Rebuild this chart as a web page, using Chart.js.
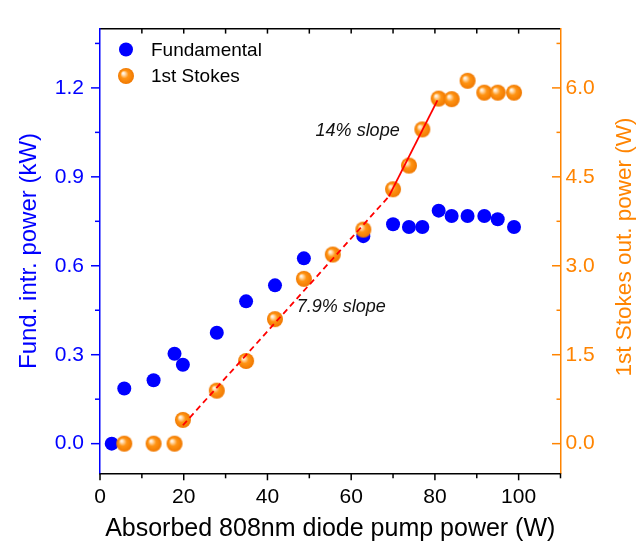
<!DOCTYPE html>
<html><head><meta charset="utf-8">
<script src="https://cdn.jsdelivr.net/npm/chart.js@4.4.0/dist/chart.umd.min.js"></script>
<style>html,body{margin:0;padding:0;background:#fff;}canvas{display:block;}</style>
</head><body>
<canvas id="c" width="641" height="542"></canvas>
<script>
// ---- data ----
const fundPump   = [2.8, 5.8, 12.8, 17.8, 19.8, 27.9, 34.9, 41.8, 48.7, 62.9, 70.0, 73.8, 77.0, 80.9, 84.0, 87.8, 91.8, 95.0, 98.9];
const fundPower  = [0.0, 0.186, 0.214, 0.303, 0.266, 0.374, 0.480, 0.534, 0.625, 0.700, 0.740, 0.731, 0.731, 0.786, 0.768, 0.768, 0.768, 0.757, 0.731];
const stokesPump = [5.8, 12.8, 17.8, 19.8, 27.9, 34.9, 41.8, 48.7, 55.6, 62.9, 70.0, 73.8, 77.0, 80.9, 84.0, 87.8, 91.8, 95.0, 98.9];
const stokesPower= [0.0, 0.0, 0.0, 0.40, 0.894, 1.395, 2.10, 2.78, 3.19, 3.61, 4.29, 4.69, 5.30, 5.82, 5.81, 6.12, 5.92, 5.92, 5.92];
const fitLowPump  = [19.8, 69.0];
const fitLowPower = [0.31, 4.17];
const fitHighPump = [69.0, 80.6];
const fitHighPower= [4.17, 5.79];
const xTicks     = [0, 20, 40, 60, 80, 100];
const leftTicks  = [0.0, 0.3, 0.6, 0.9, 1.2];
const rightTicks = [0.0, 1.5, 3.0, 4.5, 6.0];
const seriesNames = ['Fundamental', '1st Stokes'];
const slopeLabels = ['14% slope', '7.9% slope'];
const axisTitles = ['Absorbed 808nm diode pump power (W)', 'Fund. intr. power (kW)', '1st Stokes out. power (W)'];

// ---- style ----
const FONT = "'Liberation Sans', Arial, sans-serif";
const BLUE = '#0000FF';
const ORANGE = '#FF8400';
Chart.defaults.font.family = FONT;

function sphere(r) {
  const c = document.createElement('canvas');
  const s = Math.ceil(2 * r + 2);
  c.width = s; c.height = s;
  const g = c.getContext('2d');
  const cx = s / 2, cy = s / 2;
  const grad = g.createRadialGradient(cx - 0.38 * r, cy - 0.38 * r, 0, cx, cy, r);
  grad.addColorStop(0, '#FFFFFF');
  grad.addColorStop(0.18, '#FFE2BC');
  grad.addColorStop(0.5, '#FF9414');
  grad.addColorStop(1, '#F07800');
  g.fillStyle = grad;
  g.beginPath(); g.arc(cx, cy, r, 0, Math.PI * 2); g.fill();
  return c;
}
const orangeBall = sphere(8);

const pts = (xs, ys) => xs.map((v, i) => ({x: v, y: ys[i]}));
const setTicks = arr => s => { s.ticks = arr.map(v => ({value: v})); };

const decor = {
  id: 'decor',
  afterDraw(chart) {
    const ctx = chart.ctx;
    const {x, xTop, y, y2} = chart.scales;
    const ca = chart.chartArea;
    ctx.save();
    ctx.lineWidth = 1.5;
    function line(x0, y0, x1, y1, col) {
      ctx.strokeStyle = col; ctx.beginPath(); ctx.moveTo(x0, y0); ctx.lineTo(x1, y1); ctx.stroke();
    }
    // bottom ticks (outward)
    xTicks.forEach(v => { const px = x.getPixelForValue(v); line(px, ca.bottom, px, ca.bottom + 7, '#000'); });
    [10, 30, 50, 70, 90, 110].forEach(v => { const px = x.getPixelForValue(v); line(px, ca.bottom, px, ca.bottom + 5, '#000'); });
    // top ticks (inward)
    [10, 20, 30, 40, 50, 60, 70, 80, 90, 100].forEach(v => { const px = xTop.getPixelForValue(v); line(px, ca.top, px, ca.top + 5, '#000'); });
    // left ticks (outward)
    leftTicks.forEach(v => { const py = y.getPixelForValue(v); line(ca.left - 9, py, ca.left, py, BLUE); });
    [0.15, 0.45, 0.75, 1.05, 1.35].forEach(v => { const py = y.getPixelForValue(v); line(ca.left - 5, py, ca.left, py, BLUE); });
    // right ticks (inward)
    rightTicks.forEach(v => { const py = y2.getPixelForValue(v); line(ca.right - 8.5, py, ca.right, py, ORANGE); });
    [0.75, 2.25, 3.75, 5.25, 6.75].forEach(v => { const py = y2.getPixelForValue(v); line(ca.right - 4, py, ca.right, py, ORANGE); });

    // slope annotations
    ctx.fillStyle = '#111';
    ctx.font = 'italic 18px ' + FONT;
    ctx.textAlign = 'left'; ctx.textBaseline = 'alphabetic';
    ctx.fillText(slopeLabels[0], x.getPixelForValue(51.5), y2.getPixelForValue(5.19));
    ctx.fillText(slopeLabels[1], x.getPixelForValue(47.0), y2.getPixelForValue(2.22));

    // legend
    ctx.fillStyle = BLUE;
    ctx.beginPath(); ctx.arc(126, 49.5, 7, 0, Math.PI * 2); ctx.fill();
    ctx.drawImage(orangeBall, 126 - orangeBall.width / 2, 76 - orangeBall.height / 2);
    ctx.fillStyle = '#000';
    ctx.font = '19px ' + FONT;
    ctx.fillText(seriesNames[0], 151, 55.5);
    ctx.fillText(seriesNames[1], 151, 82);

    // right axis title (reads bottom-to-top)
    ctx.save();
    ctx.translate(625, 247);
    ctx.rotate(-Math.PI / 2);
    ctx.fillStyle = ORANGE;
    ctx.font = '22.5px ' + FONT;
    ctx.textAlign = 'center'; ctx.textBaseline = 'middle';
    ctx.fillText(axisTitles[2], 0, 0);
    ctx.restore();
    ctx.restore();
  }
};

new Chart(document.getElementById('c'), {
  type: 'scatter',
  data: {
    datasets: [
      {label: 'fit14', type: 'line', data: pts(fitHighPump, fitHighPower), yAxisID: 'y2', borderColor: '#FF0000', borderWidth: 1.8, pointRadius: 0, fill: false, order: 0},
      {label: 'fit79', type: 'line', data: pts(fitLowPump, fitLowPower), yAxisID: 'y2', borderColor: '#FF0000', borderWidth: 1.8, borderDash: [6, 4], pointRadius: 0, fill: false, order: 0},
      {label: seriesNames[1], data: pts(stokesPump, stokesPower), yAxisID: 'y2', pointStyle: orangeBall, pointRadius: 8, order: 1},
      {label: seriesNames[0], data: pts(fundPump, fundPower), yAxisID: 'y', backgroundColor: BLUE, borderWidth: 0, pointStyle: 'circle', pointRadius: 7, order: 2}
    ]
  },
  options: {
    responsive: false,
    animation: false,
    events: [],
    devicePixelRatio: 1,
    layout: {padding: 0},
    plugins: {legend: {display: false}, tooltip: {enabled: false}},
    scales: {
      x: {
        type: 'linear', position: 'bottom', min: 0, max: 110,
        afterBuildTicks: setTicks(xTicks),
        ticks: {font: {size: 21}, color: '#000', padding: 11, maxRotation: 0, autoSkip: false, callback: v => String(v)},
        grid: {display: false, drawTicks: false},
        border: {display: true, color: '#000', width: 1.5},
        title: {display: true, text: axisTitles[0], color: '#000', font: {size: 25, lineHeight: 1}, padding: 0},
        afterFit: s => { s.height = 68.7; }
      },
      xTop: {
        type: 'linear', position: 'top', min: 0, max: 110,
        ticks: {display: false},
        grid: {display: false, drawTicks: false},
        border: {display: true, color: '#000', width: 1.5},
        afterFit: s => { s.height = 15.5; }
      },
      y: {
        type: 'linear', position: 'left', min: -0.1, max: 1.4,
        afterBuildTicks: setTicks(leftTicks),
        ticks: {font: {size: 21}, color: BLUE, padding: 16, autoSkip: false, callback: v => v.toFixed(1)},
        grid: {display: false, drawTicks: false},
        border: {display: true, color: BLUE, width: 1.5},
        title: {display: true, text: axisTitles[1], color: BLUE, font: {size: 24, lineHeight: 1}, padding: {top: 17, bottom: 0}},
        afterFit: s => { s.width = 100; }
      },
      y2: {
        type: 'linear', position: 'right', min: -0.5, max: 7.0,
        afterBuildTicks: setTicks(rightTicks),
        ticks: {font: {size: 21}, color: ORANGE, padding: 5, autoSkip: false, callback: v => v.toFixed(1)},
        grid: {display: false, drawTicks: false},
        border: {display: true, color: ORANGE, width: 1.5},
        afterFit: s => { s.width = 80.5; }
      }
    }
  },
  plugins: [decor]
});
</script>
</body></html>
